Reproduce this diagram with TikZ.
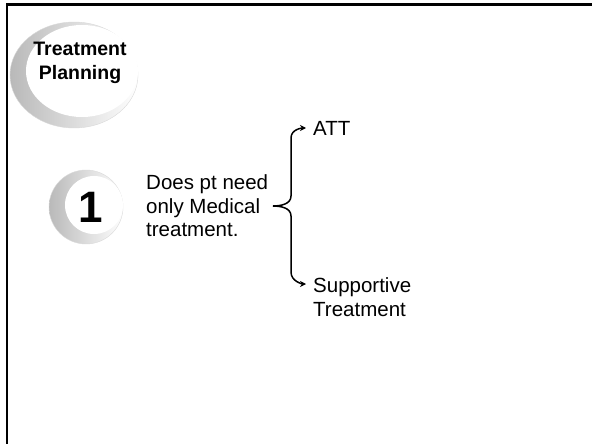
\documentclass[tikz,border=0pt]{standalone}
\usepackage{fontspec}
\setmainfont{Liberation Sans}
\usetikzlibrary{arrows.meta,shapes.geometric}

\tikzset{
  plain/.style={font=\fontsize{20.5}{23.5}\selectfont, align=left, inner sep=0pt, anchor=west},
  knob/.style={left color=gray!55, right color=white, draw=gray!30, thin},
  brace/.style={line width=1.5pt, shorten >=7pt, -{Stealth[length=6pt,width=6pt]}}
}

\begin{document}
\begin{tikzpicture}[x=1pt,y=-1pt]
        \useasboundingbox (0,0) rectangle (592,444);
        % frame, only top and left edge
        \draw [line width=2.5pt] (592,4.5) -- (7,4.5) -- (7,444);
        % title knob
        \draw [knob] (74,75) ellipse (64 and 53);
        \fill [white] (82,71) ellipse (56 and 46);
        \node [font=\fontsize{19.5}{24.5}\selectfont\bfseries, align=center, inner sep=0pt] (title) at (80,63) {Treatment\\Planning};
        % step knob
        \draw [knob] (86,207) circle (37);
        \fill [white] (94,205) circle (29);
        \node [font=\fontsize{44}{44}\selectfont\bfseries, inner sep=0pt] (num) at (91,207) {1};
        % texts
        \node [plain] (ques) at (146,206) {Does pt need\\only Medical\\treatment.};
        \node [plain] (att) at (313,128) {ATT};
        \node [plain] (sup) at (313,297) {Supportive\\Treatment};
        \coordinate (tip) at (273,206);
        % brace
        \draw [brace] (tip) to[out=0,in=-90] (291,196) -- (291,138) to[out=90,in=180] (att.west);
        \draw [brace] (tip) to[out=0,in=90] (291,216) -- (291,272) to[out=-90,in=180] (sup.west |- 284,284);
\end{tikzpicture}
\end{document}
